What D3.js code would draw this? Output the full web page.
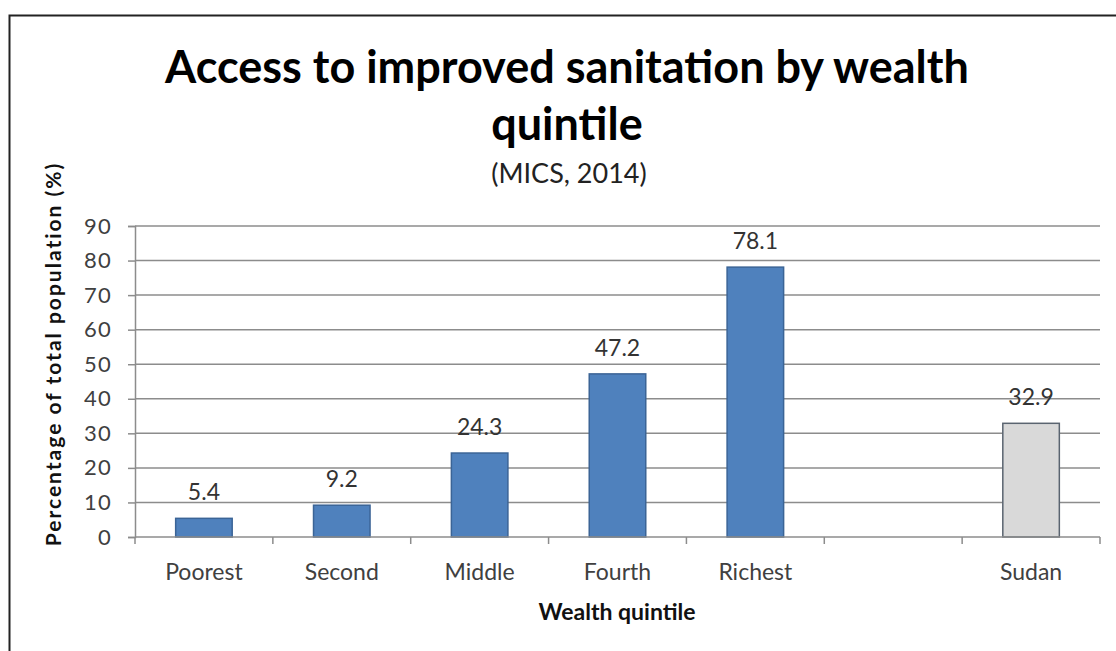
<!DOCTYPE html>
<html>
<head>
<meta charset="utf-8">
<script src="https://cdn.jsdelivr.net/npm/d3@7/dist/d3.min.js"></script>
<style>
  html, body { margin: 0; padding: 0; background: #fff; }
  svg { display: block; }
</style>
</head>
<body>
<svg id="chart" width="1116" height="651"></svg>
<script>
// Improved sanitation access by wealth quintile, with the national figure
const categories = ["Poorest", "Second", "Middle", "Fourth", "Richest", "", "Sudan"];
const values = [5.4, 9.2, 24.3, 47.2, 78.1, null, 32.9];
const isNational = [false, false, false, false, false, false, true];
const yTicks = [0, 10, 20, 30, 40, 50, 60, 70, 80, 90];

const titleLines = ["Access to improved sanitation by wealth", "quintile"];
const subtitle = "(MICS, 2014)";
const xTitle = "Wealth quintile";
const yTitle = "Percentage of total population (%)";

const font = "Lato, 'Open Sans', sans-serif";
const svg = d3.select("#chart");

// outer chart frame
svg.append("rect")
  .attr("x", 9.5).attr("y", 15.5)
  .attr("width", 1130).attr("height", 660)
  .attr("fill", "#fff").attr("stroke", "#222").attr("stroke-width", 2);

const plot = { left: 135, right: 1100, top: 226, bottom: 537 };

const x = d3.scaleBand()
  .domain(d3.range(categories.length))
  .range([plot.left, plot.right])
  .paddingInner(0.59).paddingOuter(0.295);

const y = d3.scaleLinear().domain([0, 90]).range([plot.bottom, plot.top]);

// horizontal gridlines
svg.append("g").selectAll("line")
  .data(yTicks.filter(d => d > 0))
  .join("line")
  .attr("x1", plot.left).attr("x2", plot.right)
  .attr("y1", d => y(d)).attr("y2", d => y(d))
  .attr("stroke", "#8c8c8c").attr("stroke-width", 1.5);

// y axis
const yAxis = svg.append("g")
  .attr("transform", `translate(${plot.left},0)`)
  .call(d3.axisLeft(y).tickValues(yTicks).tickSize(7).tickPadding(16).tickFormat(d3.format("d")));
yAxis.select(".domain").attr("stroke", "#8c8c8c").attr("stroke-width", 1.5);
yAxis.selectAll(".tick line").attr("stroke", "#8c8c8c").attr("stroke-width", 1.5);
yAxis.selectAll(".tick text")
  .attr("font-family", font).attr("font-size", 22).attr("letter-spacing", 1.2).attr("fill", "#404040");

// bars
const step = x.step();
svg.append("g").selectAll("rect")
  .data(values.map((v, i) => ({ v, i })).filter(d => d.v != null))
  .join("rect")
  .attr("x", d => x(d.i))
  .attr("y", d => y(d.v))
  .attr("width", x.bandwidth())
  .attr("height", d => y(0) - y(d.v))
  .attr("fill", d => isNational[d.i] ? "#d9d9d9" : "#4f81bd")
  .attr("stroke", d => isNational[d.i] ? "#5a6470" : "#3b6496")
  .attr("stroke-width", 1.5);

// value labels
svg.append("g").selectAll("text")
  .data(values.map((v, i) => ({ v, i })).filter(d => d.v != null))
  .join("text")
  .attr("x", d => x(d.i) + x.bandwidth() / 2)
  .attr("y", d => y(d.v) - 18)
  .attr("text-anchor", "middle")
  .attr("font-family", font).attr("font-size", 23).attr("fill", "#333")
  .text(d => d.v.toFixed(1));

// x axis with ticks at category boundaries
svg.append("line")
  .attr("x1", plot.left).attr("x2", plot.right)
  .attr("y1", plot.bottom).attr("y2", plot.bottom)
  .attr("stroke", "#8c8c8c").attr("stroke-width", 1.5);
svg.append("g").selectAll("line")
  .data(d3.range(categories.length + 1))
  .join("line")
  .attr("x1", i => plot.left + i * step).attr("x2", i => plot.left + i * step)
  .attr("y1", plot.bottom).attr("y2", plot.bottom + 7)
  .attr("stroke", "#8c8c8c").attr("stroke-width", 1.5);
svg.append("g").selectAll("text")
  .data(categories)
  .join("text")
  .attr("x", (d, i) => x(i) + x.bandwidth() / 2)
  .attr("y", 580)
  .attr("text-anchor", "middle")
  .attr("font-family", font).attr("font-size", 23).attr("fill", "#404040")
  .text(d => d);

// axis titles
svg.append("text")
  .attr("x", 617).attr("y", 620)
  .attr("text-anchor", "middle")
  .attr("font-family", font).attr("font-size", 23).attr("font-weight", "bold").attr("fill", "#111")
  .text(xTitle);
svg.append("text")
  .attr("transform", "translate(61,354) rotate(-90)")
  .attr("text-anchor", "middle")
  .attr("font-family", font).attr("font-size", 21).attr("letter-spacing", 2).attr("font-weight", "bold").attr("fill", "#111")
  .text(yTitle);

// title and subtitle
svg.append("g").selectAll("text")
  .data(titleLines)
  .join("text")
  .attr("x", 567).attr("y", (d, i) => 83 + i * 57)
  .attr("text-anchor", "middle")
  .attr("font-family", font).attr("font-size", 45).attr("font-weight", "bold").attr("fill", "#000")
  .text(d => d);
svg.append("text")
  .attr("x", 569).attr("y", 183)
  .attr("text-anchor", "middle")
  .attr("font-family", font).attr("font-size", 27).attr("fill", "#222")
  .text(subtitle);
</script>
</body>
</html>
